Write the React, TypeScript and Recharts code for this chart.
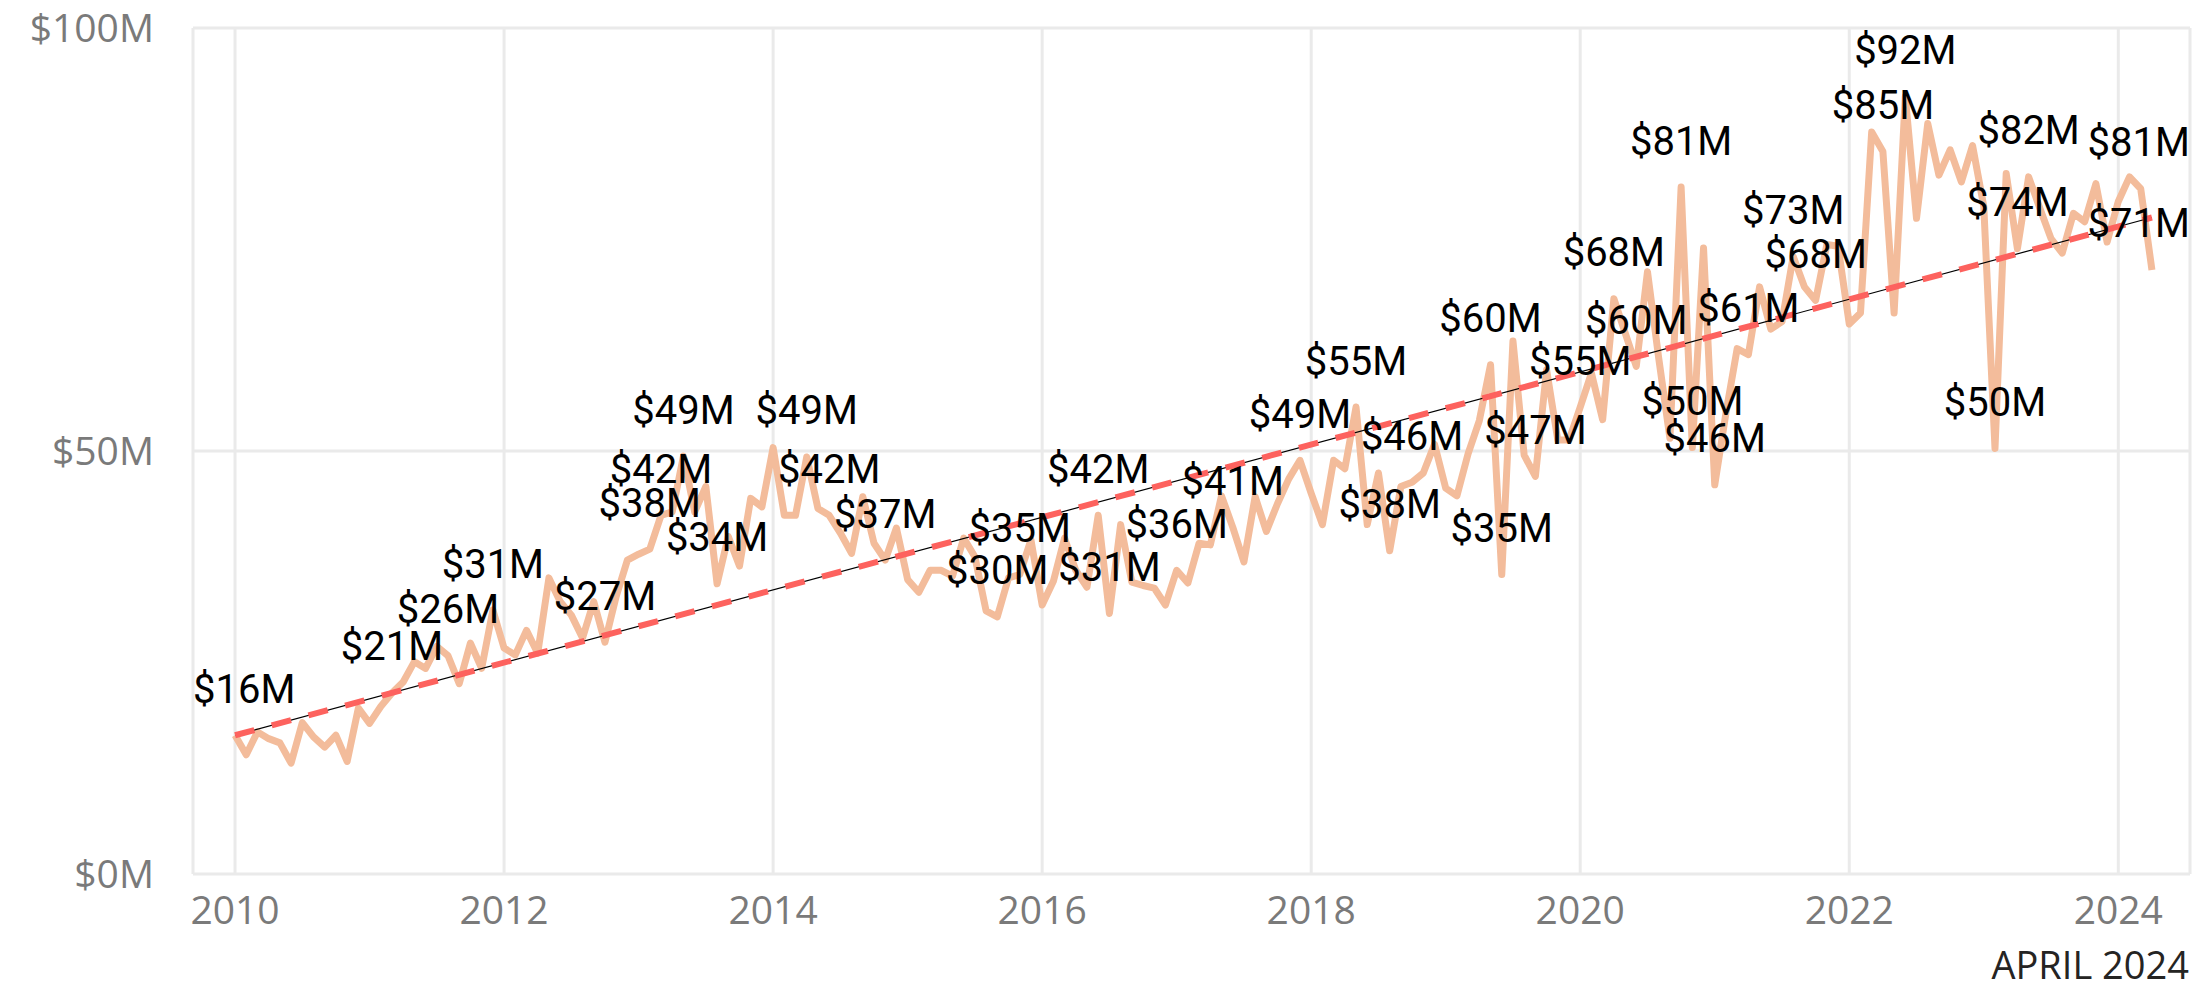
import {
  LineChart,
  Line,
  XAxis,
  YAxis,
  CartesianGrid,
  ReferenceLine,
  LabelList,
} from "recharts";

// monthly sales, $M
const y2010 = [16.4, 14.1, 16.8, 16.0, 15.5, 13.1, 17.9, 16.2, 15.0, 16.4, 13.3, 19.6];
const y2011 = [17.8, 19.8, 21.4, 22.7, 25.1, 24.3, 26.9, 25.8, 22.5, 27.3, 24.3, 31.2];
const y2012 = [26.7, 25.9, 28.8, 26.1, 35.0, 32.2, 30.6, 27.9, 32.2, 27.4, 32.8, 37.1];
const y2013 = [37.8, 38.4, 42.4, 42.8, 49.4, 42.8, 45.8, 34.3, 39.9, 36.4, 44.4, 43.4];
const y2014 = [50.4, 42.4, 42.4, 49.3, 43.2, 42.4, 40.3, 37.9, 44.6, 39.1, 37.1, 40.9];
const y2015 = [34.8, 33.3, 35.9, 35.9, 35.2, 39.7, 37.5, 31.1, 30.4, 35.0, 35.4, 39.5];
const y2016 = [31.8, 34.6, 39.7, 35.9, 33.9, 42.4, 30.8, 41.3, 34.5, 34.1, 33.8, 31.8];
const y2017 = [35.9, 34.4, 39.1, 38.9, 44.7, 41.0, 36.9, 44.6, 40.5, 43.8, 46.7, 48.9];
const y2018 = [45.0, 41.3, 48.9, 47.9, 55.2, 41.3, 47.4, 38.2, 45.8, 46.3, 47.4, 50.8];
const y2019 = [45.6, 44.7, 49.7, 53.6, 60.2, 35.4, 63.0, 49.5, 47.0, 59.6, 51.3, 51.3];
const y2020 = [55.2, 59.2, 53.7, 68.0, 64.0, 60.0, 71.2, 61.0, 51.5, 81.2, 50.4, 74.0];
const y2021 = [46.0, 54.5, 62.1, 61.4, 69.4, 64.4, 65.3, 73.0, 69.4, 67.8, 74.4, 74.2];
const y2022 = [65.0, 66.3, 87.7, 85.4, 66.3, 91.9, 77.5, 88.7, 82.6, 85.6, 81.8, 86.1];
const y2023 = [78.9, 50.3, 82.8, 73.9, 82.4, 78.7, 75.1, 73.4, 78.1, 77.1, 81.6, 74.7];
const y2024 = [79.5, 82.4, 81.0, 71.4];

const years = [2010, 2011, 2012, 2013, 2014, 2015, 2016, 2017, 2018, 2019, 2020, 2021, 2022, 2023, 2024];
const yearValues = [y2010, y2011, y2012, y2013, y2014, y2015, y2016, y2017, y2018, y2019, y2020, y2021, y2022, y2023, y2024];

const yearTicks = [2010, 2012, 2014, 2016, 2018, 2020, 2022, 2024];
const valueTicks = [0, 50, 100];

// months that show a data label
const labelled = [
  "2010-01", "2011-03", "2011-08", "2011-12", "2012-10", "2013-02", "2013-03",
  "2013-05", "2013-08", "2014-04", "2014-06", "2014-11", "2015-09", "2015-11",
  "2016-06", "2016-07", "2017-01", "2017-06", "2017-12", "2018-05", "2018-08",
  "2018-10", "2019-05", "2019-06", "2019-09", "2020-01", "2020-04", "2020-06",
  "2020-10", "2020-11", "2021-01", "2021-04", "2021-08", "2021-10", "2022-04",
  "2022-06", "2023-02", "2023-04", "2023-05", "2024-03", "2024-04",
];

// trend line value at first and last month
const trendEnds = [16.4, 77.6];

const data = yearValues.flatMap((vals, yi) =>
  vals.map((v, m) => ({
    t: years[yi] + m / 12,
    key: `${years[yi]}-${String(m + 1).padStart(2, "0")}`,
    sales: v,
  }))
);

const first = data[0];
const last = data[data.length - 1];

const PLOT_LEFT = 193;
const PLOT_RIGHT = 2190;
const LABEL_SIZE = 40;
const AXIS_FONT = "'Open Sans', sans-serif";

function DataLabel(props: any) {
  const { index, value } = props;
  const x = props.x ?? props.viewBox?.x;
  const y = props.y ?? props.viewBox?.y;
  const row = data[index];
  if (!row || !labelled.includes(row.key)) return null;
  const text = `$${Math.round(value)}M`;
  const half = (text.length * LABEL_SIZE * 0.64) / 2;
  const cx = Math.min(Math.max(x, PLOT_LEFT + half), PLOT_RIGHT - half);
  return (
    <text
      x={cx}
      y={y - 46}
      textAnchor="middle"
      dominantBaseline="central"
      fill="#000"
      fontSize={LABEL_SIZE}
      fontFamily="Roboto, 'DejaVu Sans', sans-serif"
    >
      {text}
    </text>
  );
}

function MonthNote(props: any) {
  const vb = props.viewBox;
  return (
    <text
      x={vb.x + vb.width - 1}
      y={vb.y + 105}
      textAnchor="end"
      fill="#252423"
      fontSize={38}
      fontFamily={AXIS_FONT}
    >
      APRIL 2024
    </text>
  );
}

export default function App() {
  return (
    <div
      style={{
        position: "absolute",
        left: 0,
        top: 0,
        width: 2193,
        height: 998,
        background: "#fff",
      }}
    >
      <LineChart
        width={2193}
        height={998}
        data={data}
        margin={{ top: 28, right: 3, bottom: 0, left: 0 }}
      >
        <CartesianGrid stroke="#EAEAEA" strokeWidth={3} />
        <XAxis
          type="number"
          dataKey="t"
          domain={[2009.6875, 2024.533]}
          ticks={yearTicks}
          tickFormatter={(v: number) => String(v)}
          allowDataOverflow
          height={124}
          axisLine={false}
          tickLine={false}
          tickSize={0}
          tickMargin={22}
          tick={{ fill: "#7A7A7A", fontSize: 39, fontFamily: AXIS_FONT }}
          label={{ content: MonthNote }}
        />
        <YAxis
          domain={[0, 100]}
          ticks={valueTicks}
          width={193}
          axisLine={false}
          tickLine={false}
          tickSize={0}
          tickMargin={39}
          tickFormatter={(v: number) => `$${v}M`}
          tick={{ fill: "#7A7A7A", fontSize: 39, fontFamily: AXIS_FONT }}
        />
        <Line
          type="linear"
          dataKey="sales"
          stroke="#F3BC9B"
          strokeWidth={7}
          strokeLinejoin="round"
          dot={false}
          activeDot={false}
          isAnimationActive={false}
        />
        <ReferenceLine
          segment={[
            { x: first.t, y: trendEnds[0] },
            { x: last.t, y: trendEnds[1] },
          ]}
          stroke="#000"
          strokeWidth={1.2}
        />
        <ReferenceLine
          segment={[
            { x: first.t, y: trendEnds[0] },
            { x: last.t, y: trendEnds[1] },
          ]}
          stroke="#FD625E"
          strokeWidth={6}
          strokeDasharray="20 18"
        />
        <Line
          type="linear"
          dataKey="sales"
          stroke="none"
          dot={false}
          activeDot={false}
          isAnimationActive={false}
        >
          <LabelList dataKey="sales" content={DataLabel} />
        </Line>
      </LineChart>
    </div>
  );
}
